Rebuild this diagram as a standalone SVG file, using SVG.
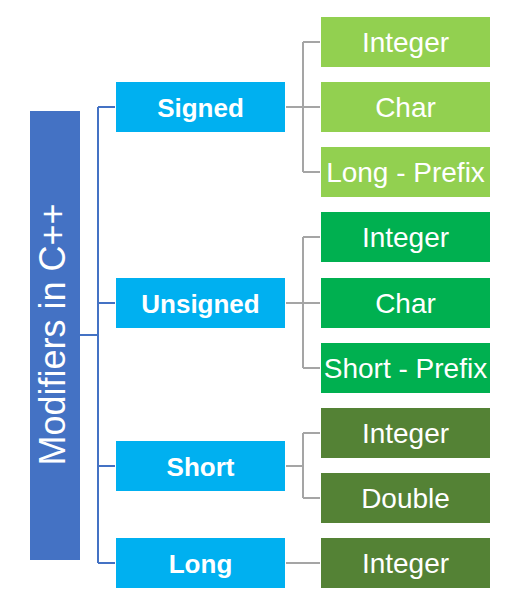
<svg xmlns="http://www.w3.org/2000/svg" width="506" height="609" viewBox="0 0 506 609">
<style>
.l1{fill:#00B0F0}
.g1{fill:#92D050}
.g2{fill:#00B050}
.g3{fill:#548235}
.t1{font-family:"Liberation Sans",Arial,sans-serif;font-weight:bold;font-size:26px;fill:#fff;text-anchor:middle}
.t2{font-family:"Liberation Sans",Arial,sans-serif;font-size:28px;fill:#fff;text-anchor:middle}
.blue{stroke:#4472C4;stroke-width:2;fill:none}
.gray{stroke:#A5A5A5;stroke-width:2;fill:none}
</style>
<rect width="506" height="609" fill="#fff"/>
<g id="connectors">
<path class="blue" d="M80,335H98M98,107V563M98,107H115M98,303H115M98,466H115M98,563H115"/>
<path class="gray" d="M286,107H303M303,42V172M303,42H320M303,107H320M303,172H320"/>
<path class="gray" d="M286,303H303M303,237V368M303,237H320M303,303H320M303,368H320"/>
<path class="gray" d="M286,466H303M303,433V498M303,433H320M303,498H320"/>
<path class="gray" d="M286,563H320"/>
</g>
<g id="root">
<rect x="30" y="111" width="50" height="449" fill="#4472C4"/>
<text transform="translate(65,334.5) rotate(-90)" font-family="Liberation Sans,Arial,sans-serif" font-size="36" fill="#fff" text-anchor="middle">Modifiers in C++</text>
</g>
<g id="signed"><rect class="l1" x="116" y="82" width="169" height="50"/><text class="t1" x="200.5" y="116.5">Signed</text></g>
<g id="unsigned"><rect class="l1" x="116" y="278" width="169" height="50"/><text class="t1" x="200.5" y="312.5">Unsigned</text></g>
<g id="short"><rect class="l1" x="116" y="441" width="169" height="50"/><text class="t1" x="200.5" y="475.5">Short</text></g>
<g id="long"><rect class="l1" x="116" y="538" width="169" height="50"/><text class="t1" x="200.5" y="572.5">Long</text></g>
<g id="signed-integer"><rect class="g1" x="321" y="17" width="169" height="50"/><text class="t2" x="405.5" y="52">Integer</text></g>
<g id="signed-char"><rect class="g1" x="321" y="82" width="169" height="50"/><text class="t2" x="405.5" y="117">Char</text></g>
<g id="signed-long-prefix"><rect class="g1" x="321" y="147" width="169" height="50"/><text class="t2" x="405.5" y="182">Long - Prefix</text></g>
<g id="unsigned-integer"><rect class="g2" x="321" y="212" width="169" height="50"/><text class="t2" x="405.5" y="247">Integer</text></g>
<g id="unsigned-char"><rect class="g2" x="321" y="278" width="169" height="50"/><text class="t2" x="405.5" y="313">Char</text></g>
<g id="unsigned-short-prefix"><rect class="g2" x="321" y="343" width="169" height="50"/><text class="t2" x="405.5" y="378">Short - Prefix</text></g>
<g id="short-integer"><rect class="g3" x="321" y="408" width="169" height="50"/><text class="t2" x="405.5" y="443">Integer</text></g>
<g id="short-double"><rect class="g3" x="321" y="473" width="169" height="50"/><text class="t2" x="405.5" y="508">Double</text></g>
<g id="long-integer"><rect class="g3" x="321" y="538" width="169" height="50"/><text class="t2" x="405.5" y="573">Integer</text></g>
</svg>
